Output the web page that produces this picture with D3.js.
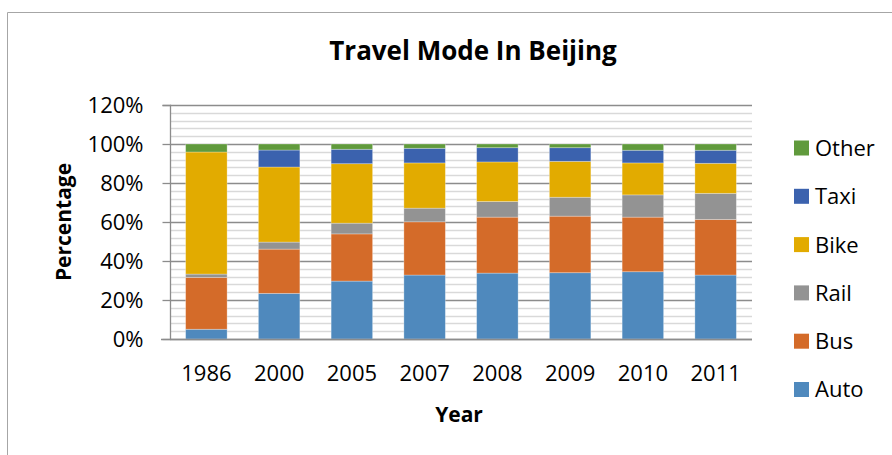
<!DOCTYPE html>
<html>
<head>
<meta charset="utf-8">
<script src="https://cdn.jsdelivr.net/npm/d3@7"></script>
<style>
  html, body { margin: 0; padding: 0; background: #fff; }
  svg { display: block; font-family: "Open Sans", sans-serif; }
</style>
</head>
<body>
<svg id="chart" width="892" height="455"></svg>
<script>
const years = ["1986", "2000", "2005", "2007", "2008", "2009", "2010", "2011"];
const auto  = [5.0, 23.4, 29.7, 32.8, 33.8, 34.0, 34.5, 32.8];
const bus   = [26.6, 22.7, 24.2, 27.3, 28.7, 29.0, 28.0, 28.5];
const rail  = [1.7, 3.6, 5.5, 7.0, 8.0, 9.7, 11.4, 13.4];
const bike  = [62.6, 38.5, 30.5, 23.2, 20.3, 18.4, 16.4, 15.4];
const taxi  = [0.0, 8.7, 7.4, 7.5, 7.3, 7.0, 6.5, 6.7];
const other = [4.1, 3.1, 2.7, 2.2, 1.9, 1.9, 3.2, 3.2];
const seriesNames = ["Auto", "Bus", "Rail", "Bike", "Taxi", "Other"];
const seriesColors = ["#4f89bd", "#d46b29", "#939393", "#e2ab00", "#3b62ae", "#609a3c"];
const yTicks = [0, 0.2, 0.4, 0.6, 0.8, 1.0, 1.2];
const chartTitle = "Travel Mode In Beijing";

const seriesValues = [auto, bus, rail, bike, taxi, other];
const rows = years.map((yr, i) => {
  const r = { year: yr };
  seriesNames.forEach((s, k) => { r[s] = seriesValues[k][i] / 100; });
  return r;
});

const svg = d3.select("#chart");
const pLeft = 170, pRight = 752, pTop = 105, pBottom = 339;

// chart frame
svg.append("path")
  .attr("d", "M7.5,460V12.5H900")
  .attr("fill", "none").attr("stroke", "#a6a6a6").attr("stroke-width", 1);

const x = d3.scaleBand().domain(years).range([pLeft, pRight]).paddingInner(0.43).paddingOuter(0.215);
const y = d3.scaleLinear().domain([0, 1.2]).range([pBottom, pTop]);

// minor gridlines
const minor = d3.range(0, 1.2001, 0.04).filter(v => Math.abs(v * 5 - Math.round(v * 5)) > 1e-6);
svg.append("g").selectAll("line").data(minor).join("line")
  .attr("x1", pLeft).attr("x2", pRight)
  .attr("y1", d => Math.round(y(d)) + 0.5).attr("y2", d => Math.round(y(d)) + 0.5)
  .attr("stroke", "#d9d9d9").attr("stroke-width", 1.6);
// major gridlines
svg.append("g").selectAll("line").data(yTicks).join("line")
  .attr("x1", pLeft).attr("x2", pRight)
  .attr("y1", d => Math.round(y(d)) + 0.5).attr("y2", d => Math.round(y(d)) + 0.5)
  .attr("stroke", "#8c8c8c").attr("stroke-width", 1.3);

// stacked bars
const stacked = d3.stack().keys(seriesNames)(rows);
const color = d3.scaleOrdinal().domain(seriesNames).range(seriesColors);
svg.append("g").selectAll("g").data(stacked).join("g")
  .attr("fill", d => color(d.key))
  .selectAll("rect").data(d => d).join("rect")
  .attr("x", d => x(d.data.year))
  .attr("width", x.bandwidth())
  .attr("y", d => y(d[1]))
  .attr("height", d => Math.max(0, y(d[0]) - y(d[1])))
  .attr("stroke", "rgba(255,255,255,0.35)").attr("stroke-width", 0.8);

// y axis
const yAxis = svg.append("g").attr("transform", `translate(${pLeft + 0.5},0)`)
  .call(d3.axisLeft(y).tickValues(yTicks).tickFormat(d3.format(".0%")).tickSize(8).tickPadding(19));
yAxis.select(".domain").attr("stroke", "#8c8c8c").attr("stroke-width", 1.3)
  .attr("d", `M-8,${pTop + 0.5}H0V${pBottom + 0.5}`);
yAxis.selectAll(".tick line").attr("stroke", "#8c8c8c").attr("stroke-width", 1.3);
yAxis.selectAll("text").attr("font-size", 22).attr("fill", "#000")
  .attr("font-family", "'Open Sans', sans-serif");

// x axis
const xAxis = svg.append("g").attr("transform", `translate(0,${pBottom + 0.5})`)
  .call(d3.axisBottom(x).tickSize(0).tickPadding(26));
xAxis.select(".domain").attr("stroke", "#8c8c8c").attr("stroke-width", 1.3)
  .attr("d", `M${pLeft - 9},0H${pRight}`);
xAxis.selectAll("text").attr("font-size", 22).attr("fill", "#000")
  .attr("font-family", "'Open Sans', sans-serif");

// title
svg.append("text").attr("x", 473).attr("y", 59.5).attr("text-anchor", "middle")
  .attr("font-size", 26).attr("font-weight", "bold").text(chartTitle);

// axis titles
svg.append("text").attr("x", 459).attr("y", 421.5).attr("text-anchor", "middle")
  .attr("font-size", 21).attr("font-weight", "bold").text("Year");
svg.append("text").attr("transform", "translate(70.5,222) rotate(-90)").attr("text-anchor", "middle")
  .attr("font-size", 21).attr("font-weight", "bold").text("Percentage");

// legend (reverse order, top = Other)
const legendNames = seriesNames.slice().reverse();
const legend = svg.append("g").selectAll("g").data(legendNames).join("g")
  .attr("transform", (d, i) => `translate(794,${148 + i * 48.3})`);
legend.append("rect").attr("x", 0).attr("y", -7.5).attr("width", 15).attr("height", 15)
  .attr("fill", d => color(d));
legend.append("text").attr("x", 21).attr("y", 0).attr("dy", "0.36em")
  .attr("font-size", 22).attr("fill", "#000").text(d => d);
</script>
</body>
</html>
